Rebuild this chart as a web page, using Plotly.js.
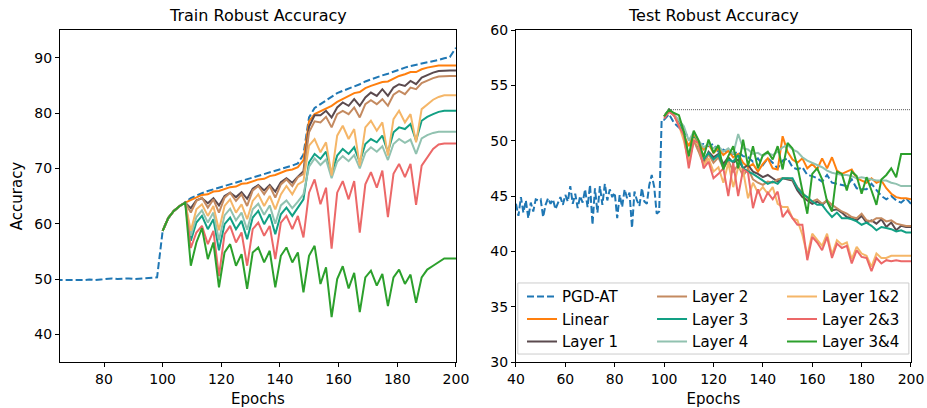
<!DOCTYPE html>
<html>
<head>
<meta charset="utf-8">
<script src="https://cdn.plot.ly/plotly-3.0.1.min.js"></script>
<style>html,body{margin:0;padding:0;background:#fff;}#chart{width:927px;height:408px;}</style>
</head>
<body>
<div id="chart"></div>
<script>
// ---------------- DATA ----------------
var seriesNames = ["PGD-AT","Linear","Layer 1","Layer 2","Layer 3","Layer 4","Layer 1&2","Layer 2&3","Layer 3&4"];
var seriesColors = ["#1f77b4","#ff7f0e","#5b4a4e","#c48a60","#12a084","#91c2b0","#f5b668","#ec6868","#2ca02c"];

// Train: PGD-AT before the branch point
var trainPreEpochs = [63.5,65.4,67.4,69.3,71.2,73.1,75.0,77.0,78.9,80.8,82.7,84.6,86.6,88.5,90.4,92.3,94.2,96.2,98.1];
var trainPrePGD = [49.8,49.8,49.7,49.7,49.8,49.8,49.9,49.8,49.9,50.0,50.1,50.0,50.1,50.1,50.0,50.1,50.2,50.2,50.3];

// Train: evaluation epochs from 100 on
var trainEpochs = [100.0,101.9,103.8,105.8,107.7,109.6,111.5,113.4,115.4,117.3,119.2,121.1,123.0,125.0,126.9,128.8,130.7,132.6,134.6,136.5,138.4,140.3,142.2,144.2,146.1,148.0,149.9,151.8,153.8,155.7,157.6,159.5,161.4,163.4,165.3,167.2,169.1,171.0,173.0,174.9,176.8,178.7,180.6,182.6,184.5,186.4,188.3,190.2,192.2,194.1,196.0,197.9,200.0];
var trainPGD = [58.7,61.0,62.3,63.2,63.9,64.6,65.1,65.5,65.9,66.2,66.5,66.9,67.2,67.5,67.8,68.1,68.4,68.7,69.0,69.3,69.6,69.9,70.2,70.5,70.9,72.5,79.2,80.9,81.6,82.3,82.9,83.6,84.0,84.4,84.8,85.2,85.7,86.1,86.5,86.8,87.1,87.5,87.9,88.2,88.5,88.7,88.9,89.2,89.4,89.6,89.9,90.1,91.8];
var trainLinear = [58.7,61.0,62.3,63.2,63.8,64.3,64.8,65.2,65.3,65.8,65.9,66.3,66.6,66.7,67.2,67.3,67.7,68.0,68.1,68.6,68.8,69.2,69.6,69.8,70.2,71.5,78.5,79.8,80.3,80.9,81.3,82.0,82.5,83.0,83.6,83.8,84.5,84.9,85.2,85.6,85.7,86.2,86.7,87.0,87.4,87.4,87.9,88.2,88.4,88.6,88.6,88.6,88.6];
var trainL1 = [58.7,61.0,62.3,63.2,63.8,62.8,64.2,64.6,63.7,64.6,63.3,65.0,65.6,64.8,65.7,64.5,66.3,67.0,66.0,67.0,65.8,67.5,68.2,67.4,68.5,69.5,77.5,79.6,79.6,80.4,79.2,81.0,81.9,81.3,82.5,81.3,82.8,83.7,83.1,84.3,83.1,84.6,85.2,84.9,85.8,85.2,86.4,86.9,87.3,87.6,87.7,87.7,87.7];
var trainL2 = [58.7,61.0,62.3,63.2,63.8,62.0,64.1,64.7,62.9,64.4,62.0,64.7,65.6,64.1,65.3,63.2,66.0,66.8,65.3,66.8,64.7,67.1,68.0,66.8,68.4,69.0,76.5,78.5,78.3,79.3,77.4,79.8,80.4,79.8,81.0,79.2,81.6,82.3,81.6,82.5,81.3,83.3,84.0,83.4,84.6,84.3,85.4,85.9,86.3,86.6,86.7,86.7,86.7];
var trainL3 = [58.7,61.0,62.3,63.2,63.8,56.9,60.2,61.4,59.0,60.8,55.2,59.9,61.1,59.0,60.5,57.2,61.1,62.3,59.9,61.7,58.1,61.7,62.9,61.4,62.9,64.4,71.1,72.6,71.7,73.0,69.0,72.3,73.5,72.6,73.8,71.1,74.4,75.3,74.7,75.9,72.9,76.5,77.4,77.1,78.0,75.0,78.6,79.3,79.8,80.2,80.4,80.4,80.4];
var trainL4 = [58.7,61.0,62.3,63.2,63.8,57.8,61.2,62.4,60.2,62.0,57.0,61.5,62.7,60.6,62.0,58.9,62.6,63.6,61.6,63.3,60.0,63.3,64.2,62.8,64.0,65.3,70.3,71.8,70.6,71.6,68.2,71.2,72.2,71.3,72.4,70.0,72.8,73.8,73.0,74.0,71.5,74.4,75.3,74.6,75.2,72.6,75.4,76.0,76.4,76.6,76.6,76.6,76.6];
var trainL12 = [58.7,61.0,62.3,63.2,63.8,58.7,62.6,63.5,61.4,63.2,58.8,63.2,64.4,62.0,63.5,60.8,64.1,65.3,63.2,65.0,62.6,65.3,66.8,65.3,67.1,67.7,74.1,75.3,72.9,74.7,68.7,75.9,77.7,75.3,77.1,70.5,77.4,78.6,76.8,78.3,72.3,78.9,80.4,78.3,79.8,74.7,80.7,81.6,82.4,82.9,83.2,83.2,83.2];
var trainL23 = [58.7,61.0,62.3,63.2,63.8,55.6,58.4,59.6,56.3,58.7,50.5,58.1,59.6,56.6,58.4,52.4,59.0,60.2,57.8,59.6,53.6,60.2,61.4,59.0,61.4,57.5,65.6,68.0,63.5,66.5,55.5,65.6,67.7,64.4,67.7,58.4,67.1,69.3,66.5,69.6,61.2,69.0,70.8,68.4,70.8,63.4,70.5,72.0,73.5,74.3,74.5,74.5,74.5];
var trainL34 = [58.7,61.0,62.3,63.2,63.8,52.4,56.6,59.2,53.6,56.6,48.5,54.8,56.3,52.4,54.5,48.2,54.8,55.7,53.0,55.1,48.5,54.2,55.7,53.0,54.8,47.6,54.2,56.0,49.1,52.1,43.1,50.0,52.3,48.3,51.1,44.0,50.3,51.5,48.8,50.9,45.1,50.3,51.7,49.1,50.8,45.7,50.3,51.7,52.4,53.0,53.7,53.7,53.7];

// Test: PGD-AT per epoch before 100
var testPreStart = 40;
var testPrePGD = [44.3,43.2,44.9,43.5,44.6,43.0,44.4,43.6,44.7,44.6,44.7,43.1,44.2,44.8,44.3,44.7,43.8,44.4,44.9,44.2,45.1,44.5,45.9,44.3,45.2,43.9,45.0,44.4,45.6,44.0,46.0,42.4,45.7,43.5,45.9,44.2,46.1,44.6,45.6,44.9,45.3,43.0,45.1,44.0,45.6,44.8,45.3,42.1,45.4,44.6,44.1,45.7,44.5,44.3,46.0,46.9,45.8,43.4,43.6,51.9];

// Test: epochs from 100 on (every 2)
var testEpochs = [100,102,104,106,108,110,112,114,116,118,120,122,124,126,128,130,132,134,136,138,140,142,144,146,148,150,152,154,156,158,160,162,164,166,168,170,172,174,176,178,180,182,184,186,188,190,192,194,196,198,200];
var testPGD = [51.9,52.4,51.6,51.2,50.8,50.3,50.0,49.6,49.7,49.5,49.7,49.0,49.2,48.9,48.8,49.0,48.6,48.5,48.1,48.4,47.8,48.4,48.0,47.5,48.2,48.4,47.6,47.4,47.6,46.9,46.8,46.6,46.3,46.9,46.2,46.1,46.0,45.9,46.5,45.7,45.6,45.6,46.1,45.5,45.0,44.7,45.0,44.6,44.4,44.8,44.3];
var testLinear = [52.2,52.8,52.4,51.5,50.5,49.5,50.6,49.8,49.2,49.7,48.9,49.3,48.7,49.1,48.5,48.8,48.0,47.6,47.9,47.2,47.9,48.4,47.5,47.4,50.4,49.0,48.3,48.0,48.4,47.5,47.9,47.4,48.4,47.5,48.5,47.3,47.0,47.2,47.4,46.6,46.4,46.2,46.6,46.2,46.4,45.7,45.2,44.9,44.8,44.8,44.7];
var testL1 = [52.2,52.8,52.3,51.6,50.6,48.3,50.2,49.4,48.0,49.0,48.5,48.8,47.9,48.5,48.0,48.3,47.5,47.8,47.2,47.0,46.7,46.9,46.6,46.3,46.6,46.5,46.4,45.5,44.9,44.6,44.3,44.5,44.2,44.6,43.7,43.8,43.5,43.1,43.0,42.8,43.2,42.6,42.8,42.5,42.9,42.2,42.6,41.9,42.3,42.2,42.2];
var testL2 = [52.2,52.8,52.3,51.5,50.3,48.0,50.0,49.0,47.8,48.8,48.0,48.5,47.5,48.2,47.2,47.8,46.8,47.5,46.5,46.2,46.0,46.3,46.2,46.5,46.6,46.6,46.5,45.8,45.3,44.8,44.5,44.7,44.3,44.6,44.2,43.9,43.6,43.4,43.1,43.0,43.4,42.8,42.7,43.0,43.0,42.7,42.8,42.5,42.4,42.3,42.3];
var testL3 = [52.2,52.8,52.3,51.6,50.5,48.5,50.3,49.5,48.3,48.9,48.3,48.7,47.6,48.3,48.1,48.7,47.5,47.2,47.0,46.7,46.4,46.1,46.3,46.1,46.6,46.6,46.6,45.7,45.2,44.9,44.5,44.2,44.2,43.6,43.1,43.5,43.0,43.0,42.9,42.7,42.4,42.6,42.3,41.9,42.2,42.1,42.0,41.8,41.9,41.7,41.7];
var testL4 = [52.2,52.8,52.4,51.8,51.3,50.0,50.8,50.0,49.4,49.7,49.3,49.5,49.0,49.3,48.8,50.6,49.3,49.2,48.8,48.9,48.6,48.9,48.7,49.0,49.4,49.6,49.2,49.0,48.5,48.2,48.0,47.8,47.6,47.3,47.1,47.0,46.9,46.9,46.8,46.6,46.7,46.6,46.5,46.4,46.4,46.4,46.2,46.1,45.9,45.9,45.9];
var testL12 = [52.2,52.7,52.3,51.4,50.0,48.0,50.2,49.5,47.8,48.4,47.2,47.6,46.2,48.0,45.8,47.6,47.3,44.8,46.2,45.3,45.8,45.2,45.8,44.3,44.0,44.0,43.0,42.8,41.5,39.6,41.6,41.0,40.5,41.6,39.7,41.0,40.6,40.8,39.3,40.4,39.8,39.6,38.6,39.8,39.4,39.4,39.6,39.6,39.6,39.6,39.6];
var testL23 = [52.0,52.6,52.3,51.3,50.5,47.5,50.0,49.8,47.5,48.1,46.6,47.0,47.5,45.0,48.0,45.0,47.4,47.1,43.9,45.6,44.4,45.3,44.7,45.4,43.1,43.7,43.0,42.4,42.4,39.2,41.3,40.8,40.1,41.3,39.4,40.7,40.3,40.5,38.9,40.1,39.5,39.4,38.2,39.4,38.9,39.2,39.1,39.2,39.1,39.1,39.1];
var testL34 = [52.2,52.8,52.5,52.3,50.8,48.6,50.9,50.0,48.5,50.1,48.9,49.6,47.4,48.6,49.5,47.5,50.1,47.7,49.5,47.5,48.7,49.0,48.3,49.5,47.4,49.8,49.3,47.7,45.5,43.4,47.0,47.5,46.5,44.5,43.6,47.2,47.0,45.5,47.2,46.8,45.2,46.7,45.5,44.2,46.5,46.9,47.5,46.7,48.8,48.8,48.8];

// tick labels
var trainXTicks = [80,100,120,140,160,180,200];
var trainYTicks = [40,50,60,70,80,90];
var testXTicks = [40,60,80,100,120,140,160,180,200];
var testYTicks = [30,35,40,45,50,55,60];

// ---------------- BUILD ----------------
var FONT = "DejaVu Sans, Arial, sans-serif";
var trainSeries = [trainPGD,trainLinear,trainL1,trainL2,trainL3,trainL4,trainL12,trainL23,trainL34];
var testSeries = [testPGD,testLinear,testL1,testL2,testL3,testL4,testL12,testL23,testL34];
var legendFor = ["legend","legend","legend","legend2","legend2","legend2","legend3","legend3","legend3"];

var testPreEpochs = testPrePGD.map(function(_, i){ return testPreStart + i; });

var traces = [];
for (var i = 0; i < seriesNames.length; i++) {
  var isPGD = (i === 0);
  var line = {color: seriesColors[i], width: 2};
  if (isPGD) line.dash = "7px,3px";
  traces.push({
    x: isPGD ? trainPreEpochs.concat(trainEpochs) : trainEpochs,
    y: isPGD ? trainPrePGD.concat(trainSeries[i]) : trainSeries[i],
    type: "scatter", mode: "lines", name: seriesNames[i],
    line: line, xaxis: "x", yaxis: "y", showlegend: false, hoverinfo: "skip"
  });
}
for (var j = 0; j < seriesNames.length; j++) {
  var isP = (j === 0);
  var ln = {color: seriesColors[j], width: 2};
  if (isP) ln.dash = "7px,3px";
  traces.push({
    x: isP ? testPreEpochs.concat(testEpochs) : testEpochs,
    y: isP ? testPrePGD.concat(testSeries[j]) : testSeries[j],
    type: "scatter", mode: "lines", name: seriesNames[j],
    line: ln, xaxis: "x2", yaxis: "y2", showlegend: true, legend: legendFor[j], hoverinfo: "skip"
  });
}
// best test accuracy reference (dotted)
var best = -Infinity, bestEpoch = 100;
testSeries.forEach(function(s){ s.forEach(function(v, k){ if (v > best) { best = v; bestEpoch = testEpochs[k]; } }); });
traces.push({
  x: [bestEpoch, 200], y: [best, best], type: "scatter", mode: "lines",
  line: {color: "#555555", width: 1, dash: "1px,1px"}, xaxis: "x2", yaxis: "y2",
  showlegend: false, hoverinfo: "skip"
});

var axisCommon = {
  showgrid: false, zeroline: false, showline: true, mirror: true,
  linecolor: "#000", linewidth: 1, ticks: "outside", ticklen: 4, tickwidth: 1,
  tickcolor: "#000", tickfont: {family: FONT, size: 14, color: "#000"}
};
function ax(extra){ var o = {}; for (var k in axisCommon) o[k] = axisCommon[k]; for (var k2 in extra) o[k2] = extra[k2]; return o; }

var legendCommon = {
  orientation: "v", xanchor: "left", yanchor: "top", y: 0.246,
  bgcolor: "rgba(0,0,0,0)", borderwidth: 0,
  font: {family: FONT, size: 15, color: "#000"}, tracegroupgap: 0
};
function lg(x){ var o = {}; for (var k in legendCommon) o[k] = legendCommon[k]; o.x = x; return o; }

var layout = {
  width: 927, height: 408,
  margin: {l: 60, r: 16, t: 30, b: 46},
  paper_bgcolor: "#fff", plot_bgcolor: "#fff",
  font: {family: FONT, color: "#000"},
  xaxis: ax({domain: [0, 0.4653], range: [65, 200], tickvals: trainXTicks,
    title: {text: "Epochs", font: {family: FONT, size: 15}, standoff: 7}}),
  yaxis: ax({domain: [0, 1], range: [35, 95], tickvals: trainYTicks,
    title: {text: "Accuracy", font: {family: FONT, size: 15}, standoff: 8}}),
  xaxis2: ax({domain: [0.5358, 1], range: [40, 200], tickvals: testXTicks, anchor: "y2",
    title: {text: "Epochs", font: {family: FONT, size: 15}, standoff: 7}}),
  yaxis2: ax({domain: [0, 1], range: [30, 60], tickvals: testYTicks, anchor: "x2"}),
  legend: lg(0.5429), legend2: lg(0.6957), legend3: lg(0.8484),
  shapes: [{type: "rect", xref: "paper", yref: "paper", x0: 0.538, x1: 0.9975, y0: 0.024, y1: 0.238,
    line: {color: "#cccccc", width: 1}, fillcolor: "rgba(255,255,255,0.85)", layer: "above"}],
  annotations: [
    {text: "Train Robust Accuracy", xref: "paper", yref: "paper", x: 0.2327, y: 1, xanchor: "center", yanchor: "bottom", yshift: 3, showarrow: false, font: {family: FONT, size: 16, color: "#000"}},
    {text: "Test Robust Accuracy", xref: "paper", yref: "paper", x: 0.7679, y: 1, xanchor: "center", yanchor: "bottom", yshift: 3, showarrow: false, font: {family: FONT, size: 16, color: "#000"}}
  ]
};

Plotly.newPlot("chart", traces, layout, {displayModeBar: false, staticPlot: true});
</script>
</body>
</html>
